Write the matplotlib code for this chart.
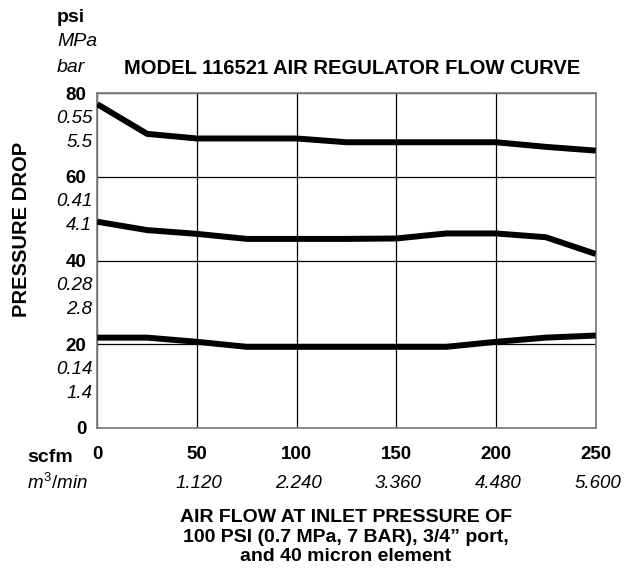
import matplotlib
matplotlib.use("Agg")
import matplotlib.pyplot as plt

plt.rcParams['font.family'] = ['Liberation Sans', 'DejaVu Sans']
plt.rcParams['mathtext.fontset'] = 'custom'
plt.rcParams['mathtext.it'] = 'Liberation Sans:italic'
plt.rcParams['mathtext.rm'] = 'Liberation Sans'

# flow (scfm) and pressure drop (psi)
flow = [0, 25, 50, 75, 100, 125, 150, 175, 200, 225, 250]
drop_high = [77.4, 70.3, 69.2, 69.2, 69.2, 68.3, 68.3, 68.3, 68.3, 67.2, 66.3]
drop_mid = [49.3, 47.3, 46.4, 45.2, 45.2, 45.2, 45.3, 46.5, 46.5, 45.6, 41.6]
drop_low = [21.6, 21.6, 20.6, 19.4, 19.4, 19.4, 19.4, 19.4, 20.6, 21.6, 22.1]

psi_ticks = [0, 20, 40, 60, 80]
mpa_labels = ["", "0.14", "0.28", "0.41", "0.55"]
bar_labels = ["", "1.4", "2.8", "4.1", "5.5"]

scfm_ticks = [0, 50, 100, 150, 200, 250]
m3_labels = ["", "1.120", "2.240", "3.360", "4.480", "5.600"]

W, H = 641, 579
fig = plt.figure(figsize=(W / 100, H / 100), dpi=100)
ax = fig.add_axes([97.3 / W, 1 - 428 / H, (595.7 - 97.3) / W, (428 - 93.3) / H])

for d in (drop_high, drop_mid, drop_low):
    ax.plot(flow, d, color='black', lw=4.3, solid_capstyle='butt', zorder=3)

ax.set_xlim(0, 250)
ax.set_ylim(0, 80)
ax.set_xticks(scfm_ticks)
ax.set_yticks(psi_ticks)
ax.grid(True, color='black', lw=0.9)
ax.tick_params(length=0)
for s in ax.spines.values():
    s.set_color('#808080')
    s.set_linewidth(1.3)

fs = 13.5

# y labels: psi bold, MPa and bar italic underneath
ax.set_yticklabels([str(v) for v in psi_ticks], fontsize=fs, fontweight='bold')
ax.tick_params(axis='y', pad=8)
for v, m, b in zip(psi_ticks, mpa_labels, bar_labels):
    ax.annotate(m, xy=(0, v), xycoords=('axes fraction', 'data'),
                xytext=(-5, -25), textcoords='offset pixels',
                ha='right', va='center', fontsize=fs, style='italic')
    ax.annotate(b, xy=(0, v), xycoords=('axes fraction', 'data'),
                xytext=(-5, -49), textcoords='offset pixels',
                ha='right', va='center', fontsize=fs, style='italic')

# x labels: scfm bold, m3/min italic underneath
ax.set_xticklabels([str(v) for v in scfm_ticks], fontsize=fs, fontweight='bold')
ax.tick_params(axis='x', pad=13)
for v, m in zip(scfm_ticks, m3_labels):
    ax.annotate(m, xy=(v, 0), xycoords=('data', 'axes fraction'),
                xytext=(2, -55), textcoords='offset pixels',
                ha='center', va='center', fontsize=fs, style='italic')

fig.text(27 / W, 1 - 458 / H, "scfm", fontsize=14, fontweight='bold', va='center')
fig.text(27 / W, 1 - 483 / H, r"$m^{\mathrm{3}}/min$", fontsize=fs, va='center')

fig.text(57 / W, 1 - 17 / H, "psi", fontsize=14, fontweight='bold', va='center')
fig.text(57 / W, 1 - 42 / H, "MPa", fontsize=14, style='italic', va='center')
fig.text(57 / W, 1 - 67 / H, "bar", fontsize=14, style='italic', va='center')

fig.text(352 / W, 1 - 68 / H, "MODEL 116521 AIR REGULATOR FLOW CURVE",
         fontsize=14.5, fontweight='bold', ha='center', va='center')
fig.text(22 / W, 1 - 229 / H, "PRESSURE DROP", fontsize=14.5, fontweight='bold',
         rotation=90, ha='center', va='center')

fig.text(346 / W, 1 - 537 / H,
         "AIR FLOW AT INLET PRESSURE OF\n100 PSI (0.7 MPa, 7 BAR), 3/4\u201d port,\nand 40 micron element",
         fontsize=14, fontweight='bold', ha='center', va='center', linespacing=1.2)

fig.savefig("out.png", dpi=100)
